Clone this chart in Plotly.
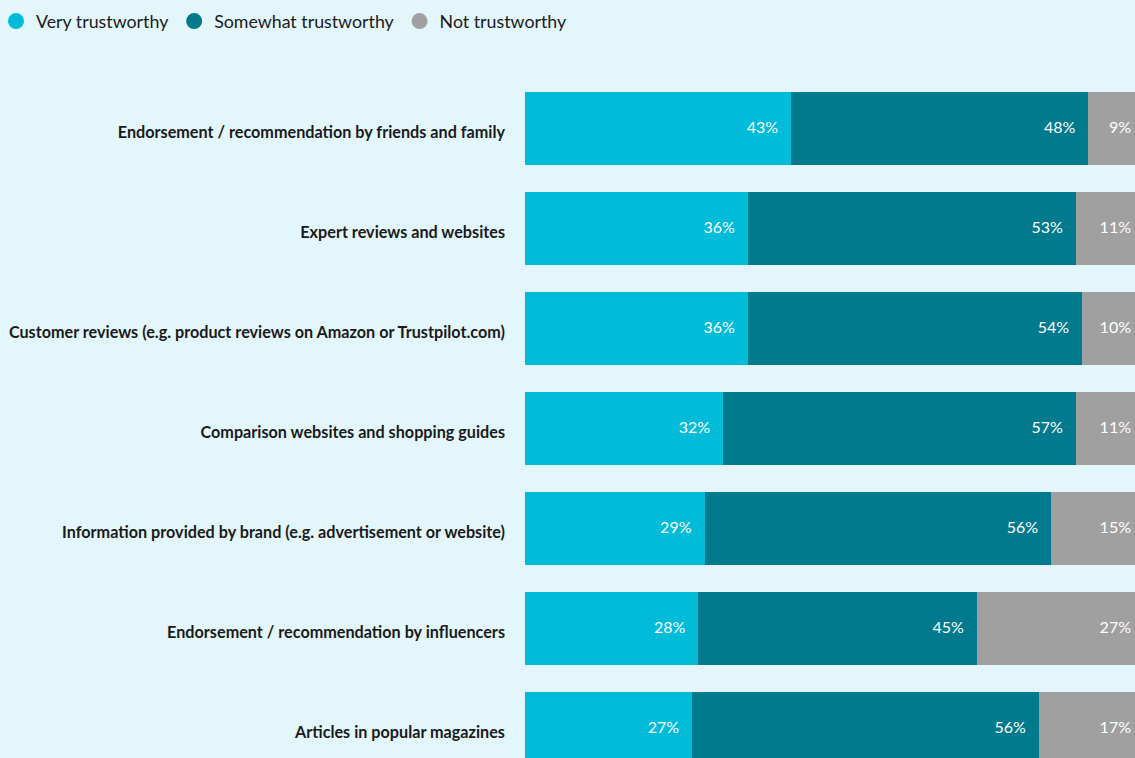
import plotly.graph_objects as go

categories = [
    "Endorsement / recommendation by friends and family",
    "Expert reviews and websites",
    "Customer reviews (e.g. product reviews on Amazon or Trustpilot.com)",
    "Comparison websites and shopping guides",
    "Information provided by brand (e.g. advertisement or website)",
    "Endorsement / recommendation by influencers",
    "Articles in popular magazines",
]
very = [43, 36, 36, 32, 29, 28, 27]
somewhat = [48, 53, 54, 57, 56, 45, 56]
not_trust = [9, 11, 10, 11, 15, 27, 17]

series = [
    ("Very trustworthy", very, "#00bcd9"),
    ("Somewhat trustworthy", somewhat, "#007a8c"),
    ("Not trustworthy", not_trust, "#a0a0a0"),
]

W, H = 1135, 758
ML, MT = 525, 60
FONT = "Lato"
X_MAX = 100 * 610 / 619          # full 100% runs a little past the right edge
PX_PER_UNIT = (W - ML) / X_MAX
LABEL_PAD = 13 / PX_PER_UNIT      # gap between label and segment end

fig = go.Figure()
cum = [0] * len(categories)
for name, vals, color in series:
    fig.add_trace(go.Bar(
        y=categories, x=vals, orientation="h", name=name,
        marker=dict(color=color, line=dict(width=0)),
        showlegend=False, hoverinfo="skip",
    ))
    cum = [c + v for c, v in zip(cum, vals)]
    # value labels, right-aligned inside each segment
    fig.add_trace(go.Scatter(
        y=categories, x=[c - LABEL_PAD for c in cum], mode="text",
        text=[f"{v}%" for v in vals], textposition="middle left",
        textfont=dict(family=FONT, size=16, color="white"),
        cliponaxis=False, showlegend=False, hoverinfo="skip",
    ))
    # circular legend entry
    fig.add_trace(go.Scatter(
        x=[None], y=[None], mode="markers", name=name,
        marker=dict(color=color, size=30, symbol="circle"),
    ))

fig.update_layout(
    width=W, height=H,
    margin=dict(l=ML, r=0, t=MT, b=0, pad=0, autoexpand=False),
    paper_bgcolor="#e3f6fb", plot_bgcolor="#e3f6fb",
    barmode="stack", bargap=0.27,
    font=dict(family=FONT, color="#1a1a1a"),
    legend=dict(
        orientation="h", traceorder="normal",
        x=-(ML + 4) / (W - ML), xanchor="left",
        y=1 + (MT - 3) / (H - MT), yanchor="top",
        font=dict(family=FONT, size=17.8, color="#1a1a1a"),
        itemsizing="trace", bgcolor="rgba(0,0,0,0)",
    ),
    xaxis=dict(range=[0, X_MAX], visible=False, fixedrange=True),
    yaxis=dict(
        categoryorder="array", categoryarray=categories,
        range=[6.295, -0.685], showgrid=False, zeroline=False,
        showline=False, ticks="", ticklabelstandoff=19, ticklabelshift=-4,
        tickfont=dict(family=FONT, size=16.2, color="#1a1a1a", weight="bold"),
    ),
)

fig.write_html("out.html")
